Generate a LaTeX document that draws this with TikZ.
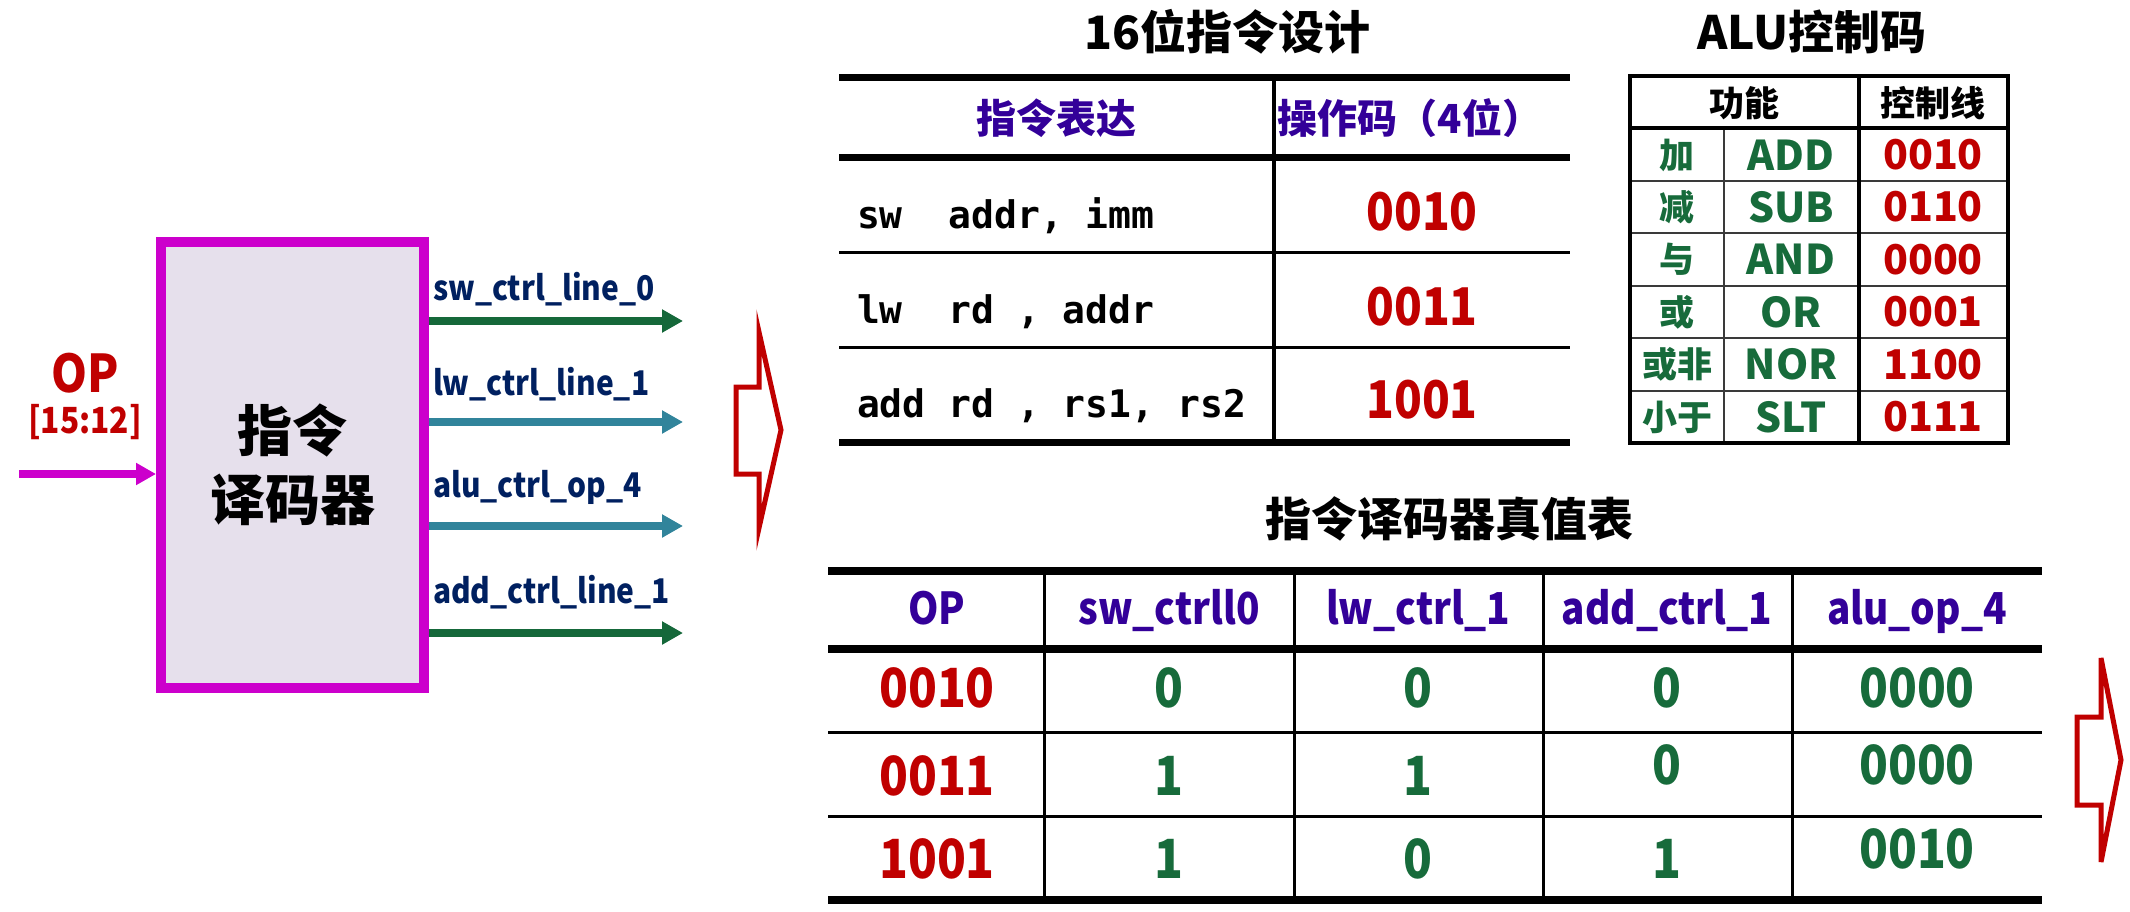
\documentclass[tikz,border=0pt]{standalone}
\usepackage{fontspec}
\setmainfont{Noto Sans CJK SC}
\newfontfamily\narrowf{Noto Sans CJK SC}[FakeStretch=0.88]
\newfontfamily\monof{DejaVu Sans Mono}
\usetikzlibrary{arrows.meta}
\definecolor{cred}{HTML}{C00000}
\definecolor{cgreen}{HTML}{176B3B}
\definecolor{agreen}{HTML}{15683A}
\definecolor{cteal}{HTML}{31849B}
\definecolor{cnavy}{HTML}{002060}
\definecolor{cindigo}{HTML}{330099}
\definecolor{cmag}{HTML}{CC00CC}
\definecolor{cfill}{HTML}{E6E0EC}
\definecolor{cgrayline}{HTML}{3A3A3A}
\newcommand{\fsz}[1]{\fontsize{#1}{#1}\selectfont}
\begin{document}
\begin{tikzpicture}[x=1pt,y=-1pt,
  txt/.style={inner sep=0pt, outer sep=0pt},
  lbl/.style={txt, anchor=base west, text=cnavy, font=\narrowf\bfseries\fsz{34}},
  outarrow/.style={line width=8pt, -{Triangle[length=21pt,width=22pt]}},
  title/.style={txt, anchor=center, font=\bfseries\fsz{46}},
  mono/.style={txt, anchor=base west, font=\monof\bfseries\fsz{38}},
  code/.style={txt, anchor=base, text=cred, font=\narrowf\bfseries\fsz{52}},
  thick rule/.style={line width=7pt, black},
  thin rule/.style={line width=3pt, black},
  alutxt/.style={txt, anchor=center, font=\bfseries\fsz{41}},
  aluzh/.style={txt, anchor=center, text=cgreen, font=\bfseries\fsz{35}},
  hdr/.style={txt, anchor=base, text=cindigo, font=\narrowf\bfseries\fsz{44}},
  tcell/.style={txt, anchor=base, font=\narrowf\bfseries\fsz{54}},
  bigarrow/.style={draw=cred, line width=5pt, line join=miter, fill=white}
]
\useasboundingbox (0,0) rectangle (2130,912);

% ---------- decoder block ----------
\node[draw=cmag, fill=cfill, line width=10pt, minimum width=263pt, minimum height=446pt,
      inner sep=0pt, align=center, font=\bfseries\fontsize{55}{69}\selectfont] (dec) at (292.5,465) {指令\\译码器};

\node[txt, anchor=base, text=cred, font=\narrowf\bfseries\fsz{52}] (op) at (85,392) {OP};
\node[txt, anchor=base, text=cred, font=\narrowf\bfseries\fsz{36}] (opb) at (85,433) {[15:12]};
\coordinate (inp) at (19,474);
\draw[cmag, line width=8pt, -{Triangle[length=20pt,width=21pt]}] (inp) -- (inp -| dec.west);

\coordinate (o1) at (683,321);
\coordinate (o2) at (683,422);
\coordinate (o3) at (683,526);
\coordinate (o4) at (683,633);
\draw[outarrow, agreen] (dec.east |- o1) -- (o1);
\draw[outarrow, cteal] (dec.east |- o2) -- (o2);
\draw[outarrow, cteal] (dec.east |- o3) -- (o3);
\draw[outarrow, agreen] (dec.east |- o4) -- (o4);
\node[lbl] (l1) at (433,300) {sw\_ctrl\_line\_0};
\node[lbl] (l2) at (433,395) {lw\_ctrl\_line\_1};
\node[lbl] (l3) at (433,497) {alu\_ctrl\_op\_4};
\node[lbl] (l4) at (433,603) {add\_ctrl\_line\_1};

% ---------- big arrows ----------
\draw[bigarrow] (736,387) -- (759,387) -- (759,332) -- (781,430) -- (759,528) -- (759,474) -- (736,474) -- cycle;
\draw[bigarrow] (2077,717) -- (2101,717) -- (2101,658) -- (2121,760) -- (2101,862) -- (2101,805) -- (2077,805) -- cycle;

% ---------- 16-bit instruction table ----------
\node[title] (t1) at (1227,32) {16位指令设计};
\draw[thick rule] (839,78) -- (1570,78);
\draw[thick rule] (839,158) -- (1570,158);
\draw[thin rule] (839,252) -- (1570,252);
\draw[thin rule] (839,347) -- (1570,347);
\draw[thick rule] (839,442) -- (1570,442);
\draw[line width=3.5pt] (1274,78) -- (1274,442);
\node[txt, anchor=center, text=cindigo, font=\bfseries\fsz{40}] (h1) at (1056,118) {指令表达};
\node[txt, anchor=center, text=cindigo, font=\bfseries\fsz{40}] (h2) at (1410,118) {操作码（4位）};
\node[mono] (r1) at (857,228) {sw\ \ addr,\ imm};
\node[mono] (r2) at (857,323) {lw\ \ rd\ ,\ addr};
\node[mono] (r3) at (857,417) {add\ rd\ ,\ rs1,\ rs2};
\node[code] (c1) at (1422,230) {0010};
\node[code] (c2) at (1422,325) {0011};
\node[code] (c3) at (1422,418) {1001};

% ---------- ALU control table ----------
\node[title] (t2) at (1812,32) {ALU控制码};
\foreach \y in {181,233,286,338,391}
  \draw[line width=2pt, cgrayline] (1630,\y) -- (2008,\y);
\draw[line width=2pt, cgrayline] (1724,128) -- (1724,443);
\draw[line width=4pt] (1630,128.5) -- (2008,128.5);
\draw[line width=4pt] (1859,76) -- (1859,443);
\draw[line width=3.5pt] (1630,76) rectangle (2008,443);
\node[txt, anchor=center, font=\bfseries\fsz{35}] (ah1) at (1744,103) {功能};
\node[txt, anchor=center, font=\bfseries\fsz{35}] (ah2) at (1933,103) {控制线};
\node[aluzh] (z1) at (1677,155) {加};
\node[aluzh] (z2) at (1677,207) {减};
\node[aluzh] (z3) at (1677,259.5) {与};
\node[aluzh] (z4) at (1677,312) {或};
\node[aluzh] (z5) at (1677,364.5) {或非};
\node[aluzh] (z6) at (1677,417) {小于};
\node[alutxt, text=cgreen] (e1) at (1791,155) {ADD};
\node[alutxt, text=cgreen] (e2) at (1791,207) {SUB};
\node[alutxt, text=cgreen] (e3) at (1791,259.5) {AND};
\node[alutxt, text=cgreen] (e4) at (1791,312) {OR};
\node[alutxt, text=cgreen] (e5) at (1791,364.5) {NOR};
\node[alutxt, text=cgreen] (e6) at (1791,417) {SLT};
\node[alutxt, text=cred] (k1) at (1933,155) {0010};
\node[alutxt, text=cred] (k2) at (1933,207) {0110};
\node[alutxt, text=cred] (k3) at (1933,259.5) {0000};
\node[alutxt, text=cred] (k4) at (1933,312) {0001};
\node[alutxt, text=cred] (k5) at (1933,364.5) {1100};
\node[alutxt, text=cred] (k6) at (1933,417) {0111};

% ---------- truth table ----------
\node[title] (t3) at (1449,519) {指令译码器真值表};
\draw[line width=8pt] (828,571) -- (2042,571);
\draw[line width=8pt] (828,649) -- (2042,649);
\draw[thin rule] (828,732.5) -- (2042,732.5);
\draw[thin rule] (828,816) -- (2042,816);
\draw[line width=8pt] (828,900) -- (2042,900);
\foreach \x in {1044,1294,1543,1792}
  \draw[line width=3pt] (\x,571) -- (\x,900);
\node[hdr] (th1) at (937,624) {OP};
\node[hdr] (th2) at (1169,624) {sw\_ctrll0};
\node[hdr] (th3) at (1418,624) {lw\_ctrl\_1};
\node[hdr] (th4) at (1667,624) {add\_ctrl\_1};
\node[hdr] (th5) at (1917,624) {alu\_op\_4};
% row 1
\node[tcell, text=cred] (a1) at (937,707) {0010};
\node[tcell, text=cgreen] (a2) at (1169,707) {0};
\node[tcell, text=cgreen] (a3) at (1418,707) {0};
\node[tcell, text=cgreen] (a4) at (1667,707) {0};
\node[tcell, text=cgreen] (a5) at (1917,707) {0000};
% row 2
\node[tcell, text=cred] (b1) at (937,795) {0011};
\node[tcell, text=cgreen] (b2) at (1169,795) {1};
\node[tcell, text=cgreen] (b3) at (1418,795) {1};
\node[tcell, text=cgreen] (b4) at (1667,784) {0};
\node[tcell, text=cgreen] (b5) at (1917,784) {0000};
% row 3
\node[tcell, text=cred] (d1) at (937,878) {1001};
\node[tcell, text=cgreen] (d2) at (1169,878) {1};
\node[tcell, text=cgreen] (d3) at (1418,878) {0};
\node[tcell, text=cgreen] (d4) at (1667,878) {1};
\node[tcell, text=cgreen] (d5) at (1917,868) {0010};
\end{tikzpicture}
\end{document}
